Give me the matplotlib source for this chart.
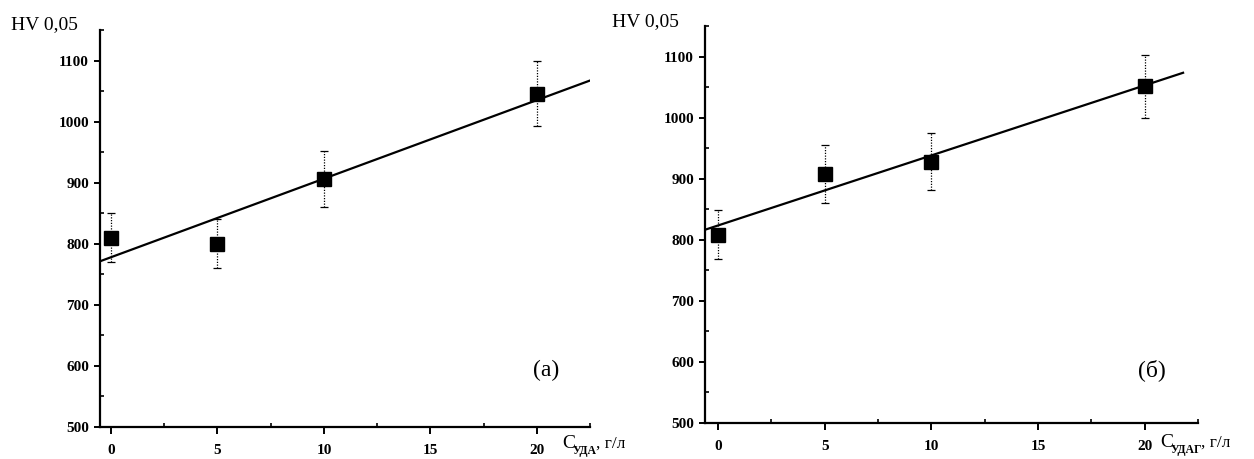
import numpy as np
import matplotlib
matplotlib.use("Agg")
import matplotlib.pyplot as plt
from matplotlib.ticker import MultipleLocator

plt.rcParams['font.family'] = ['Liberation Serif', 'DejaVu Serif']

# --- data ---
conc = [0, 5, 10, 20]

hv_a = [810, 800, 906, 1046]
err_a = [40, 40, 46, 53]

hv_b = [808, 908, 928, 1051]
err_b = [40, 47, 47, 52]

fit_range_a = [-0.52, 22.5]
fit_range_b = [-0.61, 21.8]

y_label = "HV 0,05"
x_sym = "C"
x_sub_a = "УДА"
x_sub_b = "УДАГ"
x_unit = ", г/л"
panel_a = "(а)"
panel_b = "(б)"

fig = plt.figure(figsize=(12.54, 4.59), dpi=100)

ax_a = fig.add_axes([100/1254, 1-427/459, 490/1254, 397/459])
ax_b = fig.add_axes([705/1254, 1-423/459, 493/1254, 397/459])


def draw(ax, y, e, fr, xlim):
    eb = ax.errorbar(conc, y, yerr=e, fmt='s', color='black', ms=10,
                     ecolor='black', elinewidth=0.9, capsize=3, capthick=0.9,
                     zorder=3)
    for lc in eb[2]:
        lc.set_linestyle((0, (1, 1.2)))
    k, b = np.polyfit(conc, y, 1)
    xs = np.array(fr)
    ax.plot(xs, k * xs + b, color='black', lw=1.6, zorder=2)
    ax.set_xlim(*xlim)
    ax.set_ylim(500, 1150)
    for s in ['top', 'right']:
        ax.spines[s].set_visible(False)
    for s in ['left', 'bottom']:
        ax.spines[s].set_linewidth(1.6)
    ax.xaxis.set_major_locator(MultipleLocator(5))
    ax.xaxis.set_minor_locator(MultipleLocator(2.5))
    ax.yaxis.set_major_locator(MultipleLocator(100))
    ax.yaxis.set_minor_locator(MultipleLocator(50))
    ax.tick_params(axis='x', which='major', direction='out', length=5, width=1.4,
                   pad=7, labelsize=11)
    ax.tick_params(axis='x', which='minor', direction='in', length=3, width=1.2)
    ax.tick_params(axis='y', which='major', direction='out', length=4, width=1.4,
                   pad=4, labelsize=11)
    ax.tick_params(axis='y', which='minor', direction='in', length=3, width=1.2)
    for lab in ax.get_xticklabels() + ax.get_yticklabels():
        lab.set_fontweight('bold')


draw(ax_a, hv_a, err_a, fit_range_a, (-0.52, 22.5))
draw(ax_b, hv_b, err_b, fit_range_b, (-0.61, 22.5))

fig.text(11/1254, 1-25/459, y_label, fontsize=14, va='center', ha='left')
fig.text(612/1254, 1-22/459, y_label, fontsize=14, va='center', ha='left')


def xlabel(x0, base, sub, sub_end):
    fig.text(x0/1254, 1-base/459, x_sym, fontsize=14, va='baseline', ha='left')
    fig.text((x0+11)/1254, 1-(base+6)/459, sub, fontsize=8.5, fontweight='bold',
             va='baseline', ha='left')
    fig.text(sub_end/1254, 1-base/459, x_unit, fontsize=12.5, va='baseline', ha='left')


xlabel(562, 448, x_sub_a, 596)
xlabel(1160, 447, x_sub_b, 1201)

fig.text(546/1254, 1-370/459, panel_a, fontsize=17, va='center', ha='center')
fig.text(1152/1254, 1-370/459, panel_b, fontsize=17, va='center', ha='center')

fig.savefig("out.png", dpi=100)
